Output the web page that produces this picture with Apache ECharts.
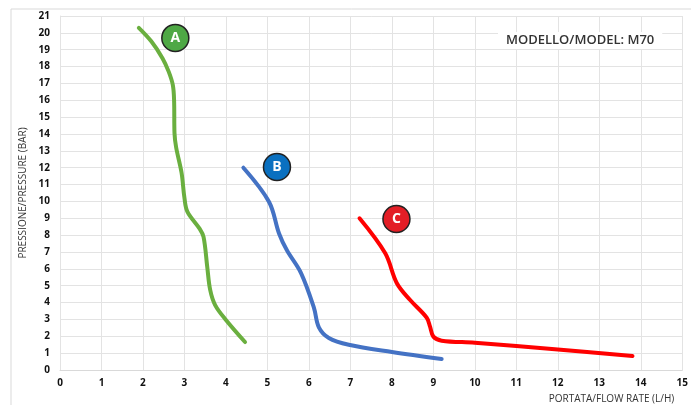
<!DOCTYPE html>
<html>
<head>
<meta charset="utf-8">
<script src="https://cdn.jsdelivr.net/npm/echarts@6/dist/echarts.min.js"></script>
<style>
  html, body { margin: 0; padding: 0; background: #fff; }
  #chart { width: 691px; height: 405px; }
</style>
</head>
<body>
<div id="chart"></div>
<script>
// curve A
const aFlow = [1.9, 2.2, 2.47, 2.62, 2.72, 2.75, 2.76, 2.8, 2.93, 3.0, 3.07, 3.36, 3.46, 3.55, 3.62, 3.74, 4.0, 4.46]
const aPressure = [20.3, 19.5, 18.5, 17.7, 16.9, 16.0, 14.05, 13.2, 11.7, 10.2, 9.4, 8.4, 7.9, 6.1, 4.75, 3.85, 2.97, 1.66]
// curve B
const bFlow = [4.42, 5.04, 5.28, 5.47, 5.81, 6.12, 6.24, 6.48, 6.96, 8.0, 9.2]
const bPressure = [12.0, 9.97, 8.1, 7.1, 5.75, 3.7, 2.53, 1.9, 1.5, 1.07, 0.65]
// curve C
const cFlow = [7.22, 7.84, 8.12, 8.44, 8.84, 8.92, 9.0, 9.2, 10.0, 12.0, 13.8]
const cPressure = [9.0, 6.92, 5.15, 4.15, 3.1, 2.57, 1.98, 1.74, 1.62, 1.22, 0.83]
// labels
const labelNames = ['A', 'B', 'C']
const labelFlow = [2.78, 5.23, 8.11]
const labelPressure = [19.7, 12.04, 8.96]
const lineColors = ['#6aaf3f', '#4472c4', '#ff0000']
const badgeColors = ['#4ea845', '#0a70c0', '#e31e26']

const zip = (xs, ys) => xs.map((x, i) => [x, ys[i]])

const chart = echarts.init(document.getElementById('chart'))
const tickFont = { color: '#111', fontWeight: 'bold', fontSize: 10, fontFamily: 'Open Sans' }

const curves = [zip(aFlow, aPressure), zip(bFlow, bPressure), zip(cFlow, cPressure)]

chart.setOption({
  animation: false,
  grid: { left: 60, right: 6, top: 16, bottom: 35 },
  xAxis: {
    type: 'value',
    min: 0,
    max: 15,
    interval: 1,
    name: 'PORTATA/FLOW RATE (L/H)',
    nameLocation: 'end',
    nameGap: 0,
    nameTextStyle: { color: '#333', fontSize: 10, fontFamily: 'Open Sans', align: 'right', verticalAlign: 'top', padding: [24, 8, 0, 0] },
    axisLine: { lineStyle: { color: '#d9d9d9' } },
    axisTick: { show: false },
    axisLabel: Object.assign({ margin: 8 }, tickFont),
    splitLine: { lineStyle: { color: '#e3e3e3' } }
  },
  yAxis: {
    type: 'value',
    min: 0,
    max: 21,
    interval: 1,
    name: 'PRESSIONE/PRESSURE (BAR)',
    nameLocation: 'middle',
    nameGap: 32,
    nameTextStyle: { color: '#333', fontSize: 10, fontFamily: 'Open Sans' },
    axisLine: { show: true, lineStyle: { color: '#e3e3e3' } },
    axisTick: { show: false },
    axisLabel: Object.assign({ margin: 10 }, tickFont),
    splitLine: { lineStyle: { color: '#e3e3e3' } }
  },
  graphic: [
    {
      type: 'rect',
      shape: { x: 11, y: 9, width: 700, height: 420 },
      style: { fill: 'none', stroke: '#d9d9d9', lineWidth: 1 },
      silent: true
    },
    {
      type: 'text',
      left: 498,
      top: 32,
      z: 10,
      style: {
        text: 'MODELLO/MODEL: M70',
        fill: '#333',
        font: '600 13px "Open Sans"',
        backgroundColor: '#fff',
        padding: [2, 8, 2, 8]
      }
    }
  ],
  series: curves.map((d, i) => ({
    type: 'line',
    data: d,
    smooth: 0.35,
    showSymbol: false,
    lineStyle: { color: lineColors[i], width: 4, cap: 'round' }
  })).concat([{
    type: 'scatter',
    symbolSize: 27,
    z: 5,
    data: labelNames.map((n, i) => ({
      name: n,
      value: [labelFlow[i], labelPressure[i]],
      itemStyle: { color: badgeColors[i], opacity: 1, borderColor: '#222', borderWidth: 1.5 }
    })),
    label: {
      show: true,
      position: 'inside',
      formatter: '{b}',
      color: '#fff',
      fontWeight: 'bold',
      fontSize: 14,
      fontFamily: 'Open Sans'
    }
  }])
})
</script>
</body>
</html>
